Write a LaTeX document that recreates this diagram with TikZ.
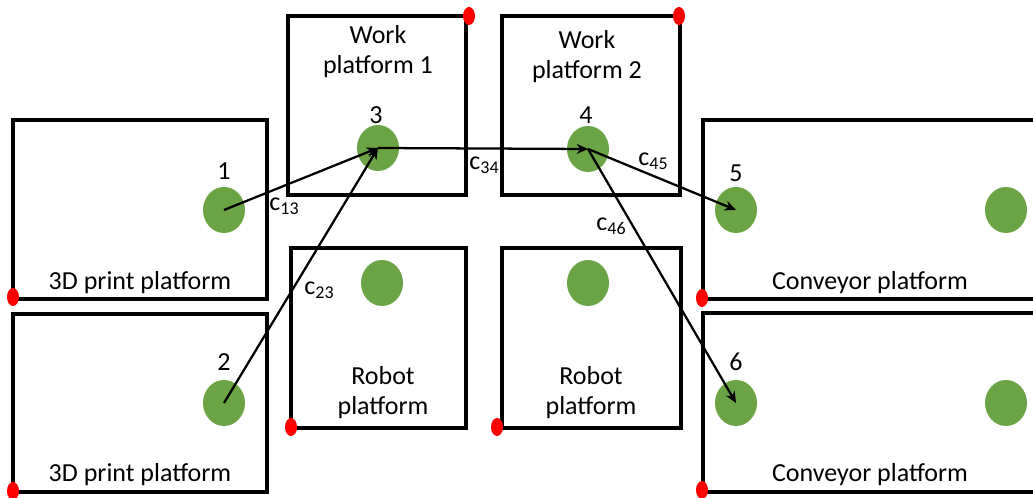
\documentclass[tikz,border=0pt]{standalone}
\usepackage{fontspec}
\setmainfont{Carlito}
\usetikzlibrary{arrows.meta,shapes.geometric}
\definecolor{dotgreen}{RGB}{106,164,69}
\definecolor{mark}{RGB}{255,0,0}
\tikzset{
  plat/.style={draw=black, line width=3pt, rectangle, inner sep=0pt, outer sep=0pt},
  spot/.style={ellipse, fill=dotgreen, minimum width=31.5pt, minimum height=34.5pt, inner sep=0pt},
  corner/.style={ellipse, fill=mark, minimum width=9pt, minimum height=13.5pt, inner sep=0pt},
  txt/.style={font=\fontsize{19.5}{22.5}\selectfont, align=center, inner sep=0pt},
  clab/.style={font=\fontsize{19.5}{22.5}\selectfont, inner sep=0pt},
  move/.style={draw=black, line width=1.7pt, -{Stealth[length=8.5pt,width=7.5pt]}}
}
\newcommand{\cij}[1]{c\raisebox{-0.35ex}{\fontsize{13.5}{13.5}\selectfont #1}}
\begin{document}
\begin{tikzpicture}[x=0.75pt,y=-0.75pt]
\useasboundingbox (0,0) rectangle (1033,498);
\clip (0,0) rectangle (1033,498);
\fill[white] (0,0) rectangle (1033,498);

% platforms
\node[plat, minimum width=190.5pt, minimum height=134.25pt] (pr1) at (140,209.5) {};
\node[plat, minimum width=190.5pt, minimum height=133.5pt] (pr2) at (140,403) {};
\node[plat, minimum width=133.5pt, minimum height=134.25pt] (wp1) at (377,105.5) {};
\node[plat, minimum width=133.5pt, minimum height=134.25pt] (wp2) at (591,105.5) {};
\node[plat, minimum width=131.25pt, minimum height=135pt] (rb1) at (378.5,338) {};
\node[plat, minimum width=134.25pt, minimum height=135pt] (rb2) at (591.5,338) {};
\node[plat, minimum width=256.5pt, minimum height=134.25pt] (cv1) at (874,209.5) {};
\node[plat, minimum width=256.5pt, minimum height=134.25pt] (cv2) at (874,402.5) {};

% platform names
\node[txt] (tpr1) at (140,283) {3D print platform};
\node[txt] (tpr2) at (140,475) {3D print platform};
\node[txt] (twp1) at (378,52) {Work\\platform 1};
\node[txt] (twp2) at (587,57) {Work\\platform 2};
\node[txt] (trb1) at (383,393) {Robot\\platform};
\node[txt] (trb2) at (591,393) {Robot\\platform};
\node[txt] (tcv1) at (870,283) {Conveyor platform};
\node[txt] (tcv2) at (870,475) {Conveyor platform};

% reference corners
\node[corner] (k1) at (13,297) {};
\node[corner] (k2) at (13,491) {};
\node[corner] (k3) at (469,16) {};
\node[corner] (k4) at (679,16) {};
\node[corner] (k5) at (291,427) {};
\node[corner] (k6) at (497,427) {};
\node[corner] (k7) at (702,298) {};
\node[corner] (k8) at (702,490) {};

% positions
\node[spot] (n1) at (224,210) {};
\node[spot] (n2) at (224,403) {};
\node[spot] (n3) at (378,148) {};
\node[spot] (n4) at (588,149) {};
\node[spot] (n5) at (736,210) {};
\node[spot] (n6) at (736,403) {};
\node[spot] (r1) at (382,283) {};
\node[spot] (r2) at (588,283) {};
\node[spot] (e5) at (1006,210) {};
\node[spot] (e6) at (1006,403) {};

% position numbers
\node[txt] (l1) at (224,171) {1};
\node[txt] (l2) at (224,362) {2};
\node[txt] (l3) at (376,115) {3};
\node[txt] (l4) at (586,115) {4};
\node[txt] (l5) at (736,173) {5};
\node[txt] (l6) at (736,362) {6};

% transfers
\draw[move] (n1.center) -- (n3.center);
\draw[move] (n2.center) -- (n3.center);
\draw[move] (n3.center) -- (n4.center);
\draw[move] (n4.center) -- (n5.center);
\draw[move] (n4.center) -- (n6.center);

% transfer costs
\node[clab] (c13) at (284,206) {\cij{13}};
\node[clab] (c23) at (319,290) {\cij{23}};
\node[clab] (c34) at (484,165) {\cij{34}};
\node[clab] (c45) at (653,161) {\cij{45}};
\node[clab] (c46) at (611,226) {\cij{46}};
\end{tikzpicture}
\end{document}
